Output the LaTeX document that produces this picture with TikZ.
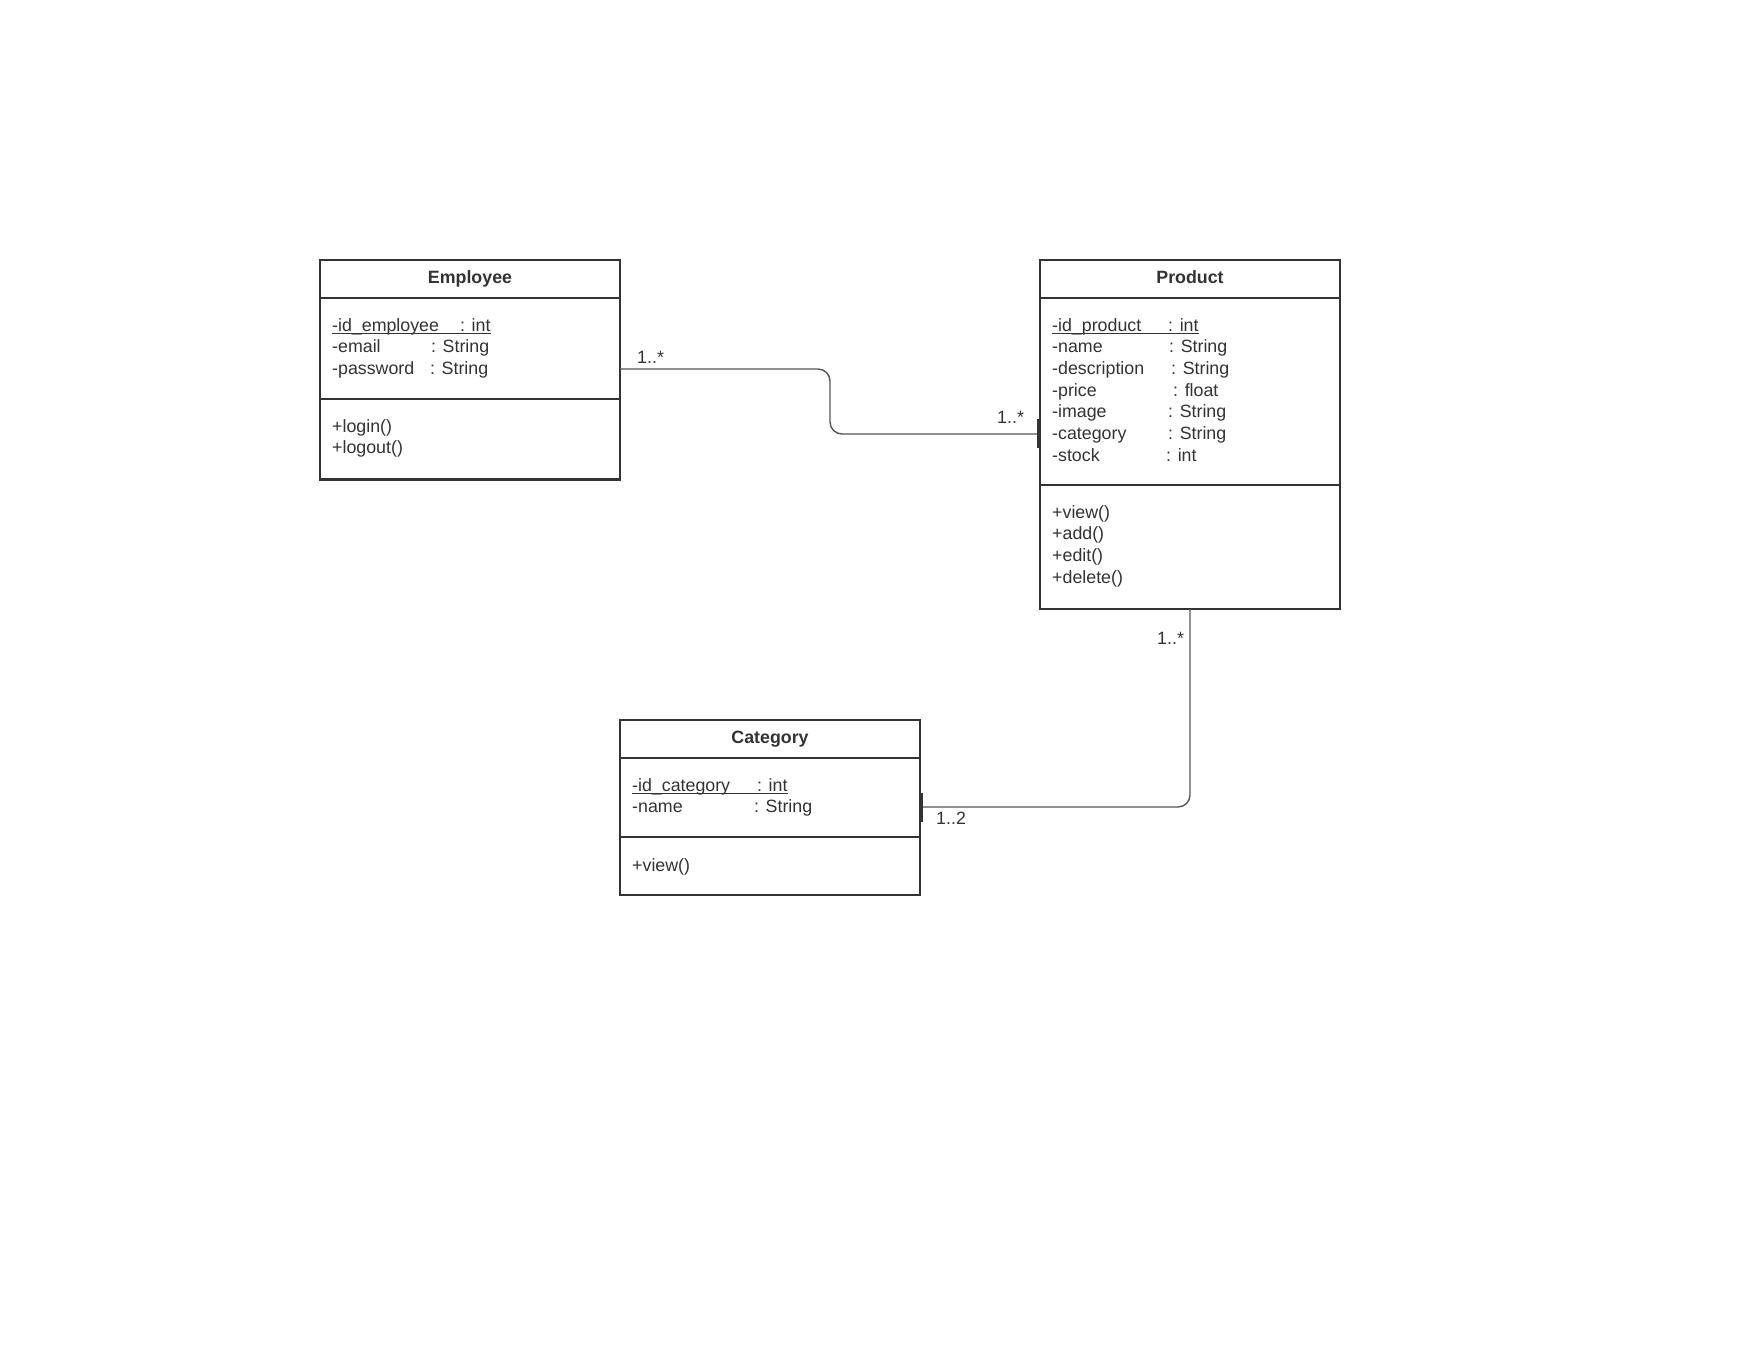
\documentclass[tikz,border=0pt]{standalone}
\usepackage{fontspec}
\setmainfont{Liberation Sans}
\definecolor{ink}{HTML}{333333}
\definecolor{wire}{HTML}{555555}
\newcommand{\umlfont}{\fontsize{17.8}{21.7}\selectfont}
\begin{document}
\begin{tikzpicture}[x=1pt,y=-1pt,
  classbox/.style={draw=ink, line width=2.3pt, anchor=north west, inner sep=0pt, outer sep=0pt},
  divider/.style={draw=ink, line width=2.3pt},
  title/.style={anchor=base, inner sep=0pt, font=\umlfont\bfseries, text=ink},
  attr/.style={anchor=base west, inner sep=0pt, font=\umlfont, text=ink},
  uline/.style={draw=ink, line width=1.2pt},
  assoc/.style={draw=wire, line width=1.4pt, rounded corners=12pt},
  endbar/.style={draw=ink, line width=2.4pt},
  mult/.style={anchor=base west, inner sep=0pt, font=\umlfont, text=ink}]
\useasboundingbox[fill=white] (0,0) rectangle (1760,1360);

% ---------- Employee ----------
\node[classbox, minimum width=300pt, minimum height=219.5pt] (emp) at (320,260) {};
\draw[divider] ([yshift=-38pt]emp.north west) -- ([yshift=-38pt]emp.north east);
\draw[divider] ([yshift=-139pt]emp.north west) -- ([yshift=-139pt]emp.north east);
\node[title] (empT) at (470,283.5) {Employee};
\node[attr] (e1a) at (332,331) {-id\_employee};
\node[attr] (e1b) at (460,331) {: int};
\node[attr] (e2a) at (332,352.7) {-email};
\node[attr] (e2b) at (431,352.7) {: String};
\node[attr] (e3a) at (332,374.3) {-password};
\node[attr] (e3b) at (430,374.3) {: String};
\draw[uline] ([yshift=-2.5pt]e1a.base west) -- ([yshift=-2.5pt]e1b.base east);
\node[attr] (e4) at (332,432) {+login()};
\node[attr] (e5) at (332,453.7) {+logout()};

% ---------- Product ----------
\node[classbox, minimum width=300pt, minimum height=349pt] (prod) at (1040,260) {};
\draw[divider] ([yshift=-38pt]prod.north west) -- ([yshift=-38pt]prod.north east);
\draw[divider] ([yshift=-225pt]prod.north west) -- ([yshift=-225pt]prod.north east);
\node[title] (prodT) at (1190,283.5) {Product};
\node[attr] (p1a) at (1052,331) {-id\_product};
\node[attr] (p1b) at (1168,331) {: int};
\node[attr] (p2a) at (1052,352.7) {-name};
\node[attr] (p2b) at (1169,352.7) {: String};
\node[attr] (p3a) at (1052,374.3) {-description};
\node[attr] (p3b) at (1171,374.3) {: String};
\node[attr] (p4a) at (1052,396) {-price};
\node[attr] (p4b) at (1173,396) {: float};
\node[attr] (p5a) at (1052,417.7) {-image};
\node[attr] (p5b) at (1168,417.7) {: String};
\node[attr] (p6a) at (1052,439.3) {-category};
\node[attr] (p6b) at (1168,439.3) {: String};
\node[attr] (p7a) at (1052,461) {-stock};
\node[attr] (p7b) at (1166,461) {: int};
\draw[uline] ([yshift=-2.5pt]p1a.base west) -- ([yshift=-2.5pt]p1b.base east);
\node[attr] (p8) at (1052,518) {+view()};
\node[attr] (p9) at (1052,539.7) {+add()};
\node[attr] (p10) at (1052,561.3) {+edit()};
\node[attr] (p11) at (1052,583) {+delete()};

% ---------- Category ----------
\node[classbox, minimum width=300pt, minimum height=175pt] (cat) at (620,720) {};
\draw[divider] ([yshift=-38pt]cat.north west) -- ([yshift=-38pt]cat.north east);
\draw[divider] ([yshift=-117pt]cat.north west) -- ([yshift=-117pt]cat.north east);
\node[title] (catT) at (770,743.5) {Category};
\node[attr] (c1a) at (632,791) {-id\_category};
\node[attr] (c1b) at (757,791) {: int};
\node[attr] (c2a) at (632,812.7) {-name};
\node[attr] (c2b) at (754,812.7) {: String};
\draw[uline] ([yshift=-2.5pt]c1a.base west) -- ([yshift=-2.5pt]c1b.base east);
\node[attr] (c3) at (632,871) {+view()};

% ---------- Employee -- Product ----------
\draw[assoc] ([yshift=-109pt]emp.north east) -- (830,369) -- (830,434)
  -- ([yshift=-174pt]prod.north west);
\draw[endbar] ([xshift=-1.5pt,yshift=-159pt]prod.north west) -- ([xshift=-1.5pt,yshift=-188pt]prod.north west);
\node[mult] (m1) at (637,363.5) {1..*};
\node[mult] (m2) at (997,423.5) {1..*};

% ---------- Product -- Category ----------
\draw[assoc] (prod.south) |- ([yshift=-87pt]cat.north east);
\draw[endbar] ([xshift=1.5pt,yshift=-73pt]cat.north east) -- ([xshift=1.5pt,yshift=-102pt]cat.north east);
\node[mult] (m3) at (1157,644.5) {1..*};
\node[mult] (m4) at (936,824.5) {1..2};
\end{tikzpicture}
\end{document}
